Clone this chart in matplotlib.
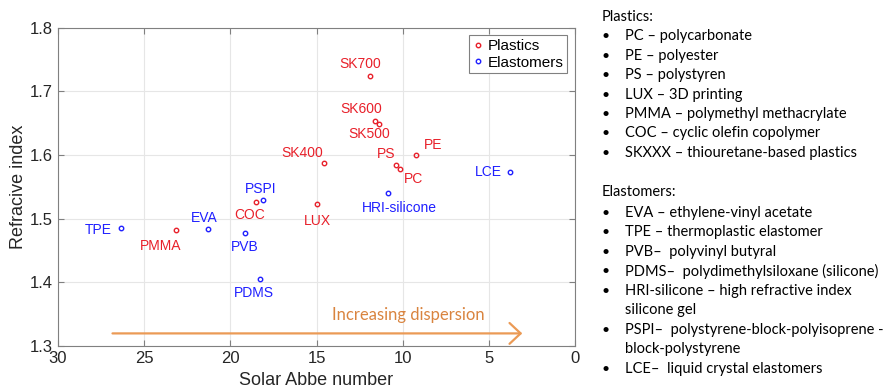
import matplotlib.pyplot as plt

plt.rcParams['font.family'] = ['Liberation Sans', 'DejaVu Sans']

# Plastics: solar Abbe number and refractive index
plastic_names = ['SK700', 'SK600', 'SK500', 'SK400', 'PS', 'PC', 'PE', 'LUX', 'COC', 'PMMA']
plastic_abbe = [11.9, 11.6, 11.35, 14.55, 10.4, 10.15, 9.2, 15.0, 18.5, 23.15]
plastic_n = [1.725, 1.653, 1.649, 1.588, 1.584, 1.578, 1.600, 1.523, 1.526, 1.482]

# Elastomers
elast_names = ['LCE', 'HRI-silicone', 'PSPI', 'EVA', 'TPE', 'PVB', 'PDMS']
elast_abbe = [3.75, 10.85, 18.1, 21.3, 26.35, 19.15, 18.3]
elast_n = [1.573, 1.541, 1.529, 1.484, 1.485, 1.477, 1.405]

# label offsets in points (dx, dy)
plastic_off = [(-7, 8), (-10, 9), (-7, -7), (-16, 7), (-7, 8), (10, -7), (12, 7), (1, -12), (-5, -9), (-11, -11)]
elast_off = [(-16, 0), (8, -11), (-2, 8), (-3, 8), (-16, -1), (0, -10), (-4, -10)]

red = '#e8202a'
blue = '#2020ff'

fig = plt.figure(figsize=(8.83, 3.92), dpi=100)
ax = fig.add_axes([0.0657, 0.117, 0.5855, 0.812])

ax.plot(plastic_abbe, plastic_n, 'o', ms=3.2, mfc='none', mec=red, mew=1.0, label='Plastics')
ax.plot(elast_abbe, elast_n, 'o', ms=3.2, mfc='none', mec=blue, mew=1.0, label='Elastomers')

for name, x, y, off in zip(plastic_names, plastic_abbe, plastic_n, plastic_off):
    ax.annotate(name, (x, y), xytext=off, textcoords='offset points',
                ha='center', va='center', color=red, fontsize=10)
for name, x, y, off in zip(elast_names, elast_abbe, elast_n, elast_off):
    ax.annotate(name, (x, y), xytext=off, textcoords='offset points',
                ha='center', va='center', color=blue, fontsize=10)

# dispersion arrow along the bottom
ax.annotate('', xy=(2.9, 1.32), xytext=(27, 1.32),
            arrowprops=dict(arrowstyle='->,head_length=0.8,head_width=0.75', color='#eb9a55', lw=1.6))
ax.text(9.7, 1.349, 'Increasing dispersion', ha='center', va='center',
        color='#d9843f', fontsize=12, family='Lato')

ax.set_xlim(30, 0)
ax.set_ylim(1.3, 1.8)
ax.set_xticks([30, 25, 20, 15, 10, 5, 0])
ax.set_yticks([1.3, 1.4, 1.5, 1.6, 1.7, 1.8])
ax.grid(True, color='#e6e6e6', lw=0.8)
ax.set_axisbelow(True)
ax.tick_params(direction='in', top=True, right=True, labelsize=12, colors='#262626', length=4)
ax.tick_params(which='both', color='#808080')
for s in ax.spines.values():
    s.set_color('#808080')
ax.set_xlabel('Solar Abbe number', fontsize=13, color='#262626', labelpad=4)
ax.set_ylabel('Refracive index', fontsize=13, color='#262626', labelpad=2)

leg = ax.legend(loc='upper right', fontsize=11, handletextpad=0.3, handlelength=0.7,
                borderpad=0.25, labelspacing=0.15, fancybox=False, framealpha=1,
                borderaxespad=0.5)
leg.get_frame().set_edgecolor('#808080')
leg.get_frame().set_linewidth(0.8)

# abbreviation list beside the plot
lines = [
    ('Plastics:', False, 17),
    ('PC \u2013 polycarbonate', True, 36),
    ('PE \u2013 polyester', True, 56),
    ('PS \u2013 polystyren', True, 75),
    ('LUX \u2013 3D printing', True, 95),
    ('PMMA \u2013 polymethyl methacrylate', True, 114),
    ('COC \u2013 cyclic olefin copolymer', True, 133),
    ('SKXXX \u2013 thiouretane-based plastics', True, 153),
    ('Elastomers:', False, 192),
    ('EVA \u2013 ethylene-vinyl acetate', True, 213),
    ('TPE \u2013 thermoplastic elastomer', True, 232),
    ('PVB\u2013  polyvinyl butyral', True, 252),
    ('PDMS\u2013  polydimethylsiloxane (silicone)', True, 271),
    ('HRI-silicone \u2013 high refractive index', True, 291),
    ('silicone gel', None, 310),
    ('PSPI\u2013  polystyrene-block-polyisoprene -', True, 330),
    ('block-polystyrene', None, 349),
    ('LCE\u2013  liquid crystal elastomers', True, 369),
]
for txt, bullet, ypix in lines:
    yf = 1 - ypix / 392
    if bullet:
        fig.text(606 / 883, yf, '\u2022', ha='center', va='center', fontsize=10, family='Lato')
    x0 = 602 if bullet is False else 625
    fig.text(x0 / 883, yf, txt, ha='left', va='center', fontsize=10.5, family='Lato', color='black')

fig.savefig('out.png', dpi=100)
